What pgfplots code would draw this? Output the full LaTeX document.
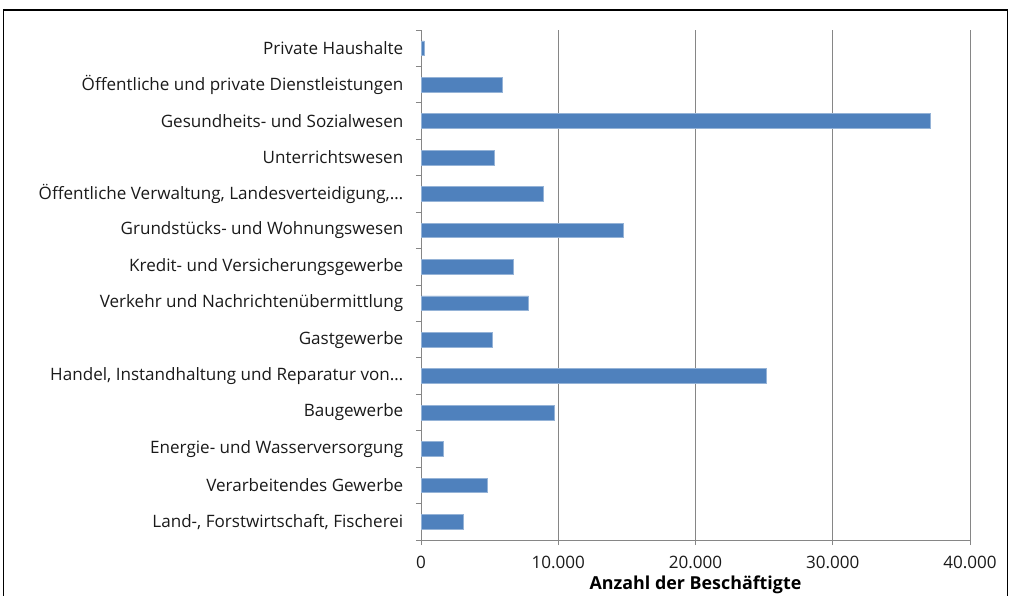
\documentclass[border=0pt]{standalone}
\usepackage{pgfplots}
\pgfplotsset{compat=1.18}
\usepackage{fontspec}
\setmainfont{Open Sans}
\definecolor{barblue}{HTML}{4F81BD}
\definecolor{baredge}{HTML}{95B3D7}
\definecolor{gridgray}{HTML}{868686}
\definecolor{txt}{HTML}{1A1A1A}
\begin{document}
\begin{tikzpicture}
\useasboundingbox (0,0) rectangle (757.5pt,447pt);
% outer frame, bottom edge falls outside the page
\draw[line width=1.1pt] (2.5pt,-20pt) -- (2.5pt,439.5pt) -- (755.5pt,439.5pt) -- (755.5pt,-20pt);
\begin{axis}[
  at={(315.75pt,42pt)}, anchor=south west,
  width=411.75pt, height=382.5pt, scale only axis,
  xbar, bar width=11pt,
  xmin=0, xmax=40000, ymin=-0.5, ymax=13.5,
  axis x line*=bottom, axis y line*=left,
  axis line style={gridgray, line width=0.6pt},
  xtick={0,10000,20000,30000,40000},
  scaled x ticks=false,
  /pgf/number format/1000 sep={.},
  /pgf/number format/assume math mode=true,
  xmajorgrids, grid style={gridgray, line width=0.6pt},
  tick align=outside,
  major tick length=3.75pt, minor tick length=3.75pt,
  tick style={gridgray, line width=0.6pt},
  major y tick style={draw=none},
  ytick={0,...,13},
  minor ytick={-0.5,0.5,...,13.5},
  yticklabels={
    {Land-, Forstwirtschaft, Fischerei},
    {Verarbeitendes Gewerbe},
    {Energie- und Wasserversorgung},
    {Baugewerbe},
    {Handel, Instandhaltung und Reparatur von…},
    {Gastgewerbe},
    {Verkehr und Nachrichtenübermittlung},
    {Kredit- und Versicherungsgewerbe},
    {Grundstücks- und Wohnungswesen},
    {Öffentliche Verwaltung, Landesverteidigung,…},
    {Unterrichtswesen},
    {Gesundheits- und Sozialwesen},
    {Öffentliche und private Dienstleistungen},
    {Private Haushalte}},
  ticklabel style={font=\fontsize{12.8}{15}\selectfont, text=txt},
  yticklabel style={xshift=-6pt},
  xticklabel style={yshift=-5pt},
  xlabel={Anzahl der Beschäftigte},
  xlabel style={at={(axis description cs:0.5,0)}, anchor=north, yshift=-23.5pt,
    font=\bfseries\fontsize{13.4}{15}\selectfont, text=black},
]
\addplot[fill=barblue, draw=baredge, line width=0.4pt] coordinates {
(3080,0) (4830,1) (1625,2) (9715,3) (25140,4) (5200,5) (7850,6)
(6725,7) (14720,8) (8910,9) (5340,10) (37130,11) (5925,12) (250,13)};
\end{axis}
\end{tikzpicture}
\end{document}
